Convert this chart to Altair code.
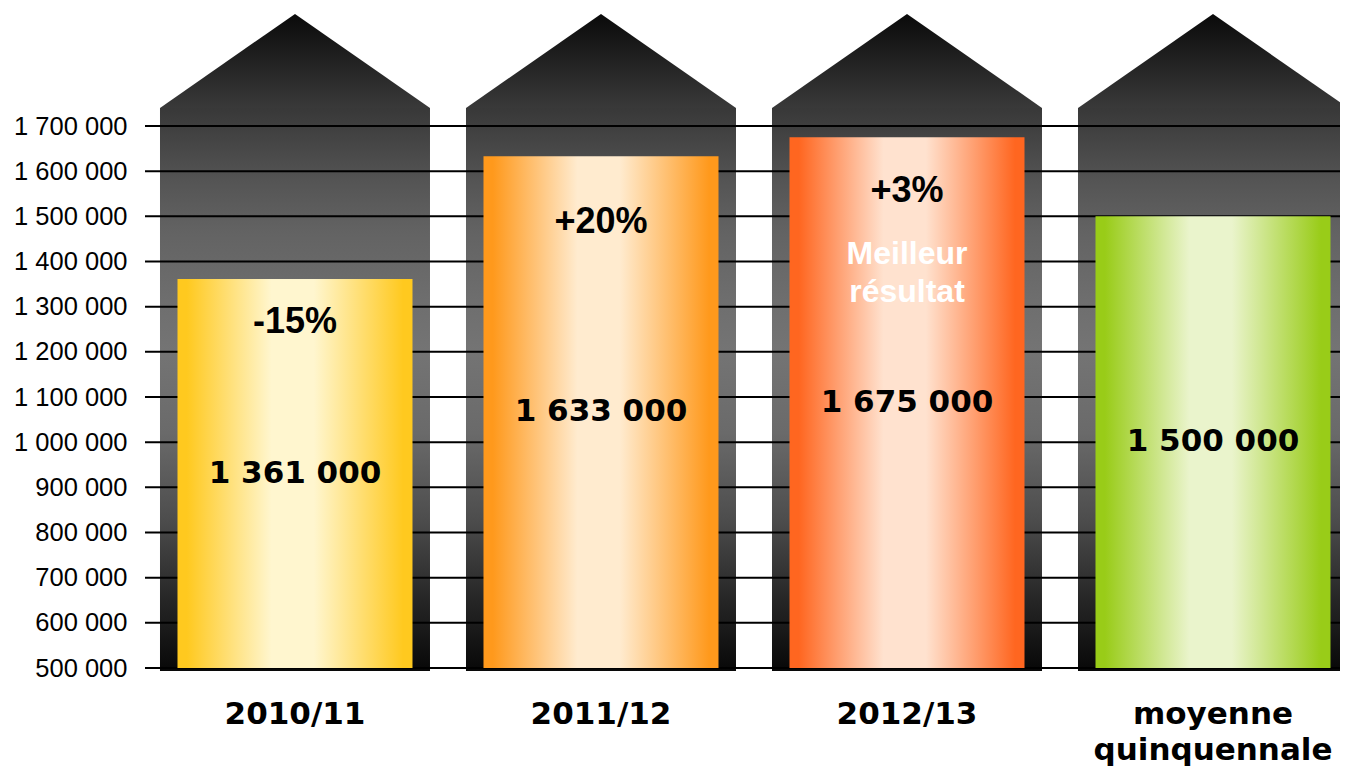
import altair as alt
import pandas as pd

# ---- data ----
categories = ["2010/11", "2011/12", "2012/13", "moyenne quinquennale"]
values = [1361000, 1633000, 1675000, 1500000]
value_labels = ["1 361 000", "1 633 000", "1 675 000", "1 500 000"]
change_labels = ["-15%", "+20%", "+3%", ""]
note_labels = ["", "", "Meilleur\nrésultat", ""]
tick_values = [500000, 600000, 700000, 800000, 900000, 1000000, 1100000,
               1200000, 1300000, 1400000, 1500000, 1600000, 1700000]

# ---- layout / style ----
y_base = 500000
silo_bottom = 493400
silo_shoulder = 1740000
silo_roof_mid = 1844000
edge_colors = ["#FFC91F", "#FF991C", "#FF6620", "#99CC18"]
light_colors = ["#FFF6CF", "#FFEBCF", "#FFE2CF", "#EAF4CC"]
change_dy = [43, 66, 54, 0]
note_dy = 117

df = pd.DataFrame({
    "cat": categories,
    "v": values,
    "base": [y_base] * len(values),
    "vlab": value_labels,
    "chg": change_labels,
    "note": note_labels,
    "sb": [silo_bottom] * len(values),
    "st": [silo_shoulder] * len(values),
    "sr": [silo_roof_mid] * len(values),
})
df["mid"] = (df["v"] + df["base"]) / 2
grid_df = pd.DataFrame({"g": tick_values})

xscale = alt.Scale(domain=categories, range=[0, 1203], paddingInner=36 / 306,
                   paddingOuter=0.0245, align=1)
yscale = alt.Scale(domain=[500000, 1700000], nice=False, zero=False)

yaxis = alt.Axis(values=tick_values, grid=False, domain=False, ticks=False,
                 labelPadding=18, labelFont="Liberation Sans", labelFontSize=25.5,
                 labelColor="#000000", title=None,
                 labelExpr="replace(replace(format(datum.value, ','), ',', ' '), ',', ' ')")
xaxis = alt.Axis(orient="bottom", domain=False, ticks=False, grid=False,
                 labelPadding=31, labelFont="DejaVu Sans", labelFontSize=31,
                 labelFontWeight="bold", labelColor="#000000", labelAngle=0,
                 labelLimit=500, labelLineHeight=36, labelOverlap=False,
                 labelExpr="split(datum.label, ' ')", title=None)

X = alt.X("cat:N", scale=xscale, axis=xaxis, sort=categories)

def vgrad(stops):
    return alt.Gradient(gradient="linear", x1=0, y1=0, x2=0, y2=1,
                        stops=[alt.GradientStop(color=c, offset=o) for o, c in stops])

def hgrad(edge, light):
    stops = [(0, edge), (0.04, edge), (0.4, light), (0.58, light), (0.96, edge), (1, edge)]
    return alt.Gradient(gradient="linear", x1=0, y1=0, x2=1, y2=0,
                        stops=[alt.GradientStop(color=c, offset=o) for o, c in stops])

body_grad = vgrad([(0, "#383838"), (0.133, "#555555"), (0.222, "#636363"),
                   (0.341, "#6e6e6e"), (0.43, "#747474"), (0.577, "#6a6a6a"),
                   (0.726, "#4e4e4e"), (0.874, "#262626"), (1, "#080808")])
roof_grad = vgrad([(0, "#0a0a0a"), (1, "#393939")])

base = alt.Chart(df)

silo_body = base.mark_bar(fill=body_grad, strokeWidth=0).encode(
    x=X, y=alt.Y("st:Q", scale=yscale, axis=yaxis), y2="sb:Q")

silo_roof = base.mark_point(shape="M-1,0.348L0,-0.348L1,0.348Z", size=72900,
                            filled=True, opacity=1, fill=roof_grad, strokeWidth=0).encode(
    x=X, y=alt.Y("sr:Q", scale=yscale, axis=yaxis))

grid = alt.Chart(grid_df).mark_rule(color="#000000", strokeWidth=2).encode(
    y=alt.Y("g:Q", scale=yscale, axis=yaxis))

layers = [silo_body, silo_roof, grid]

for i, c in enumerate(categories):
    sub = base.transform_filter(alt.datum.cat == c)
    layers.append(sub.mark_bar(fill=hgrad(edge_colors[i], light_colors[i]),
                               width=alt.RelativeBandSize(235 / 270), strokeWidth=0).encode(
        x=X, y=alt.Y("v:Q", scale=yscale, axis=yaxis), y2="base:Q"))

for i, c in enumerate(categories):
    if change_labels[i]:
        sub = base.transform_filter(alt.datum.cat == c)
        layers.append(sub.mark_text(font="Liberation Sans", fontWeight="bold", fontSize=36,
                                    color="#000000", baseline="middle", dy=change_dy[i]).encode(
            x=X, y=alt.Y("v:Q", scale=yscale, axis=yaxis), text="chg:N"))

note = base.transform_filter(alt.datum.note != "").mark_text(
    font="Liberation Sans", fontWeight="bold", fontSize=32, color="#FFFFFF",
    baseline="middle", lineBreak="\n", lineHeight=38, dy=note_dy).encode(
    x=X, y=alt.Y("v:Q", scale=yscale, axis=yaxis), text="note:N")
layers.append(note)

vals = base.mark_text(font="DejaVu Sans", fontWeight="bold", fontSize=31,
                      color="#000000", baseline="middle").encode(
    x=X, y=alt.Y("mid:Q", scale=yscale, axis=yaxis), text="vlab:N")
layers.append(vals)

chart = alt.layer(*layers).properties(
    width=1195, height=542,
    autosize=alt.AutoSizeParams(type="none"),
    padding={"left": 137, "top": 118, "right": 0, "bottom": 100},
    background="#ffffff",
).configure_view(stroke=None)

chart.save("out.html", embed_options={"renderer": "svg", "actions": False})
